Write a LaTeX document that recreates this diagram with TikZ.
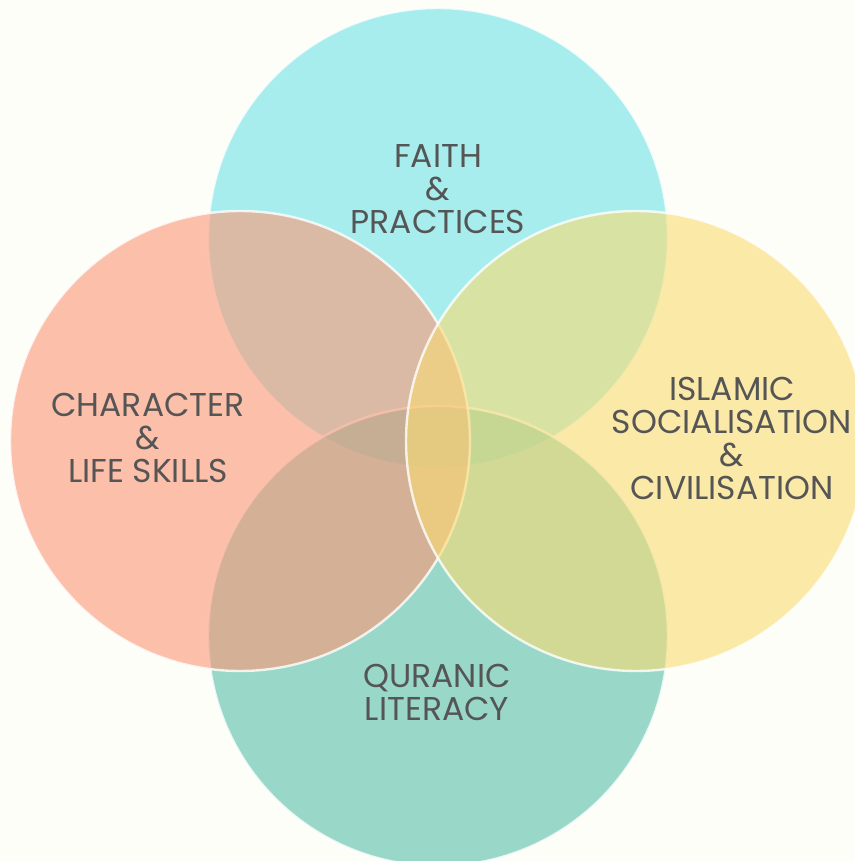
\documentclass[tikz,border=0pt]{standalone}
\usepackage{fontspec}
\setmainfont{Poppins}
\definecolor{bgcol}{RGB}{254,254,248}
\definecolor{faithcol}{RGB}{111,227,231}
\definecolor{charcol}{RGB}{252,151,118}
\definecolor{islamcol}{RGB}{249,219,115}
\definecolor{qurancol}{RGB}{87,192,168}
\definecolor{txtcol}{RGB}{85,85,85}
\tikzset{
  ring/.style={circle, minimum size=460pt, inner sep=0pt, fill=#1, fill opacity=0.6,
    draw=white, draw opacity=0.8, line width=2.4pt},
  lbl/.style={align=center, text=txtcol, font=\fontsize{33}{33}\selectfont}
}
\begin{document}
\begin{tikzpicture}[x=1pt,y=-1pt]
        \fill[bgcol] (0,0) rectangle (854,861);
        \useasboundingbox (0,0) rectangle (854,861);
        \node[ring=faithcol] at (438,238) (faith) {};
        \node[ring=qurancol] at (438,636) (quran) {};
        \node[ring=charcol]  at (240,441) (char) {};
        \node[ring=islamcol] at (636,441) (islam) {};
        \node[lbl] at (438,189) (faithtxt) {FAITH\\\&\\PRACTICES};
        \node[lbl] at (148,438) (chartxt) {CHARACTER\\\&\\LIFE SKILLS};
        \node[lbl] at (732,438) (islamtxt) {ISLAMIC\\SOCIALISATION\\\&\\CIVILISATION};
        \node[lbl] at (437,692) (qurantxt) {QURANIC\\LITERACY};
      \end{tikzpicture}
\end{document}
